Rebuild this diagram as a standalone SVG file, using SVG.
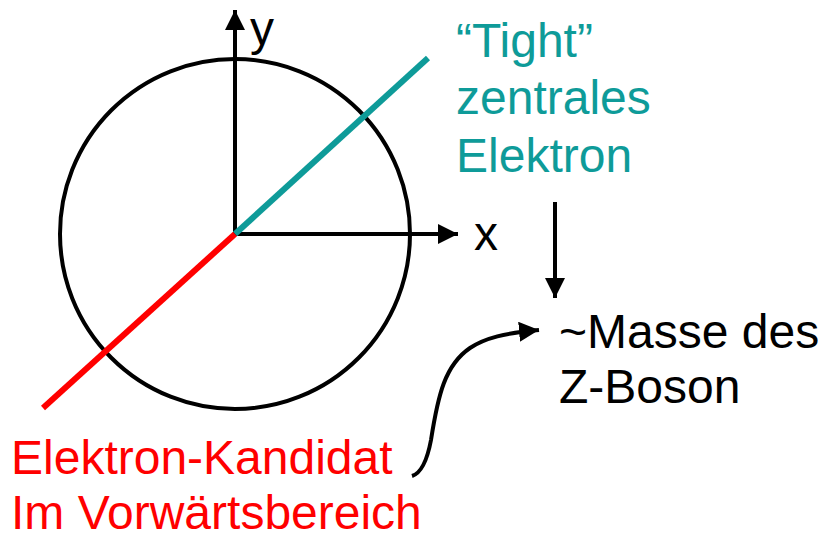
<svg xmlns="http://www.w3.org/2000/svg" width="828" height="535" viewBox="0 0 828 535">
<style>
text{font-family:"Liberation Sans",Arial,sans-serif;font-size:48px}
.blk{fill:#000}
.teal{fill:#0e9b99}
.red{fill:#ff0000}
.ln{stroke:#000;stroke-width:4;fill:none}
</style>
<defs>
<marker id="ah" markerUnits="userSpaceOnUse" markerWidth="20" markerHeight="20" viewBox="0 0 18 18" refX="18" refY="9" orient="auto">
<path d="M0,0 L18,9 L0,18 Z" fill="#000"/>
</marker>
</defs>
<g id="circle"><circle cx="235" cy="234" r="175" class="ln" stroke-width="5"/></g>
<g id="connectors">
<line x1="235" y1="234" x2="235" y2="10" class="ln" marker-end="url(#ah)"/>
<line x1="235" y1="234" x2="458" y2="234" class="ln" marker-end="url(#ah)"/>
<line x1="235" y1="234" x2="428" y2="58" stroke="#0e9b99" stroke-width="6"/>
<line x1="235" y1="234" x2="43" y2="408" stroke="#ff0000" stroke-width="6"/>
<line x1="555" y1="202" x2="555" y2="298" class="ln" marker-end="url(#ah)"/>
<path d="M412 476 Q425 472 431 440 C438 395 445 365 470 348 C485 338 505 333 539 330" class="ln" stroke-width="5" marker-end="url(#ah)"/>
</g>
<g id="label-y"><text x="250" y="45" class="blk">y</text></g>
<g id="label-x"><text x="474" y="250" class="blk">x</text></g>
<g id="tight"><text x="456" y="57" class="teal">“Tight”</text><text x="456" y="114" class="teal">zentrales</text><text x="456" y="172" class="teal">Elektron</text></g>
<g id="masse"><text x="559" y="348" class="blk">~Masse des</text><text x="559" y="403" class="blk">Z-Boson</text></g>
<g id="kandidat"><text x="11" y="474" class="red">Elektron-Kandidat</text><text x="11" y="529" class="red">Im Vorwärtsbereich</text></g>
</svg>
